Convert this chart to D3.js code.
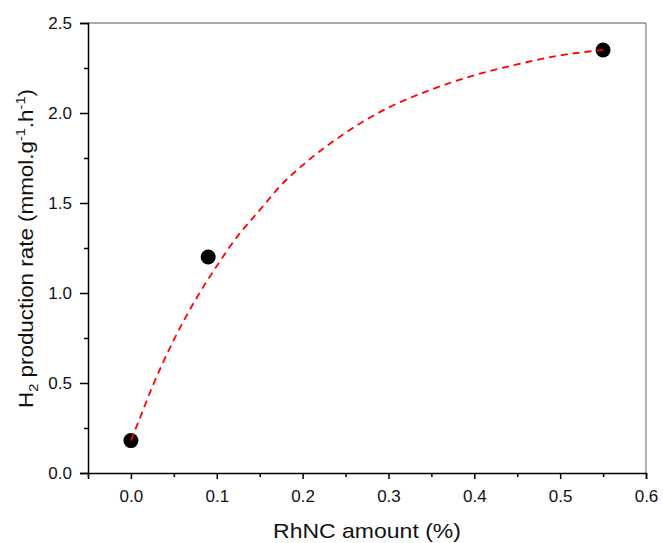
<!DOCTYPE html>
<html><head><meta charset="utf-8">
<script src="https://cdn.jsdelivr.net/npm/d3@7"></script>
<style>body{margin:0;background:#fff}svg{display:block}text{font-family:"Liberation Sans",Arial,sans-serif}</style>
</head><body>
<script>
// Data
const pointX = [0.0, 0.09, 0.55];
const pointY = [0.18, 1.20, 2.35];
const fitX = [0, 0.01, 0.025, 0.05, 0.075, 0.1, 0.125, 0.15, 0.175, 0.2, 0.25, 0.3, 0.35, 0.4, 0.45, 0.5, 0.55];
const fitY = [0.18, 0.30, 0.48, 0.74, 0.96, 1.15, 1.32, 1.46, 1.60, 1.71, 1.89, 2.03, 2.13, 2.21, 2.27, 2.32, 2.35];
const xTicks = [0.0, 0.1, 0.2, 0.3, 0.4, 0.5, 0.6];
const xMinor = [-0.05, 0.05, 0.15, 0.25, 0.35, 0.45, 0.55];
const yTicks = [0.0, 0.5, 1.0, 1.5, 2.0, 2.5];
const yMinor = [0.25, 0.75, 1.25, 1.75, 2.25];

const W = 663, H = 543;
const m = {left: 88, right: 17, top: 23, bottom: 70};
const svg = d3.select("body").append("svg").attr("width", W).attr("height", H);

const x = d3.scaleLinear().domain([-0.05, 0.6]).range([m.left, W - m.right]);
const y = d3.scaleLinear().domain([0, 2.5]).range([H - m.bottom, m.top]);

// top & right frame
svg.append("line").attr("x1", x(-0.05)).attr("x2", x(0.6)).attr("y1", y(2.5)).attr("y2", y(2.5))
  .attr("stroke", "#555").attr("stroke-width", 1);
svg.append("line").attr("x1", x(0.6)).attr("x2", x(0.6)).attr("y1", y(0)).attr("y2", y(2.5))
  .attr("stroke", "#999").attr("stroke-width", 1.5);

// bottom axis
svg.append("g").attr("transform", `translate(0,${y(0)})`)
  .call(d3.axisBottom(x).tickValues(xTicks).tickFormat(d3.format(".1f")).tickSize(6).tickPadding(11));
svg.append("g").attr("transform", `translate(0,${y(0)})`)
  .call(d3.axisBottom(x).tickValues(xMinor).tickFormat("").tickSize(4))
  .call(g => g.select(".domain").remove());
// left axis
svg.append("g").attr("transform", `translate(${x(-0.05)},0)`)
  .call(d3.axisLeft(y).tickValues(yTicks).tickFormat(d3.format(".1f")).tickSize(8).tickPadding(8));
svg.append("g").attr("transform", `translate(${x(-0.05)},0)`)
  .call(d3.axisLeft(y).tickValues(yMinor).tickFormat("").tickSize(4))
  .call(g => g.select(".domain").remove());

svg.selectAll(".domain").attr("stroke", "#000").attr("stroke-width", 1.5);
svg.selectAll(".tick line").attr("stroke", "#000").attr("stroke-width", 1.5);
svg.selectAll(".tick text").attr("font-size", 17).attr("fill", "#111")
  .attr("font-family", "'Liberation Sans', Arial, sans-serif");

// fit curve
const fit = fitX.map((d, i) => [d, fitY[i]]);
const line = d3.line().x(d => x(d[0])).y(d => y(d[1])).curve(d3.curveMonotoneX);

// points
svg.selectAll("circle.pt").data(pointX.map((d, i) => [d, pointY[i]])).enter().append("circle")
  .attr("class", "pt").attr("cx", d => x(d[0])).attr("cy", d => y(d[1])).attr("r", 7.5)
  .attr("fill", "#000");
svg.append("path").datum(fit).attr("d", line)
  .attr("fill", "none").attr("stroke", "#ff0000").attr("stroke-width", 1.8)
  .attr("stroke-dasharray", "7,5");

// axis titles
svg.append("text").attr("transform", `translate(${(x(-0.05) + x(0.6)) / 2},538) scale(1.15,1)`)
  .attr("text-anchor", "middle").attr("font-size", 20).attr("fill", "#111")
  .text("RhNC amount (%)");

const yt = svg.append("text").attr("transform", `translate(33,248.5) rotate(-90) scale(1.12,1)`)
  .attr("text-anchor", "middle").attr("font-size", 20).attr("fill", "#111");
yt.append("tspan").text("H");
yt.append("tspan").attr("font-size", 13).attr("dy", 5).text("2");
yt.append("tspan").attr("dy", -5).text(" production rate (mmol.g");
yt.append("tspan").attr("font-size", 13).attr("dy", -8).text("-1");
yt.append("tspan").attr("dy", 8).text(".h");
yt.append("tspan").attr("font-size", 13).attr("dy", -8).text("-1");
yt.append("tspan").attr("dy", 8).text(")");
</script>
</body></html>
